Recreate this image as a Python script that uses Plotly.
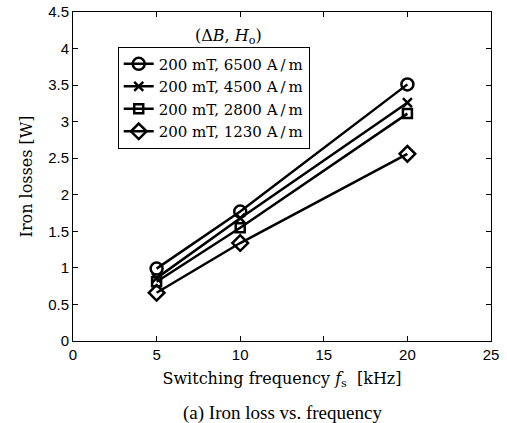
import plotly.graph_objects as go

freq = [5, 10, 20]
loss_6500 = [0.99, 1.77, 3.51]
loss_4500 = [0.86, 1.68, 3.26]
loss_2800 = [0.81, 1.55, 3.11]
loss_1230 = [0.66, 1.34, 2.56]
labels = ["200 mT, 6500 A\u2009/\u2009m", "200 mT, 4500 A\u2009/\u2009m",
          "200 mT, 2800 A\u2009/\u2009m", "200 mT, 1230 A\u2009/\u2009m"]
symbols = ["circle-open", "x-thin-open", "square-open", "diamond-open"]
sizes = [12, 9, 9, 12]
series = [loss_6500, loss_4500, loss_2800, loss_1230]

fig = go.Figure()
for lab, ys, sym, sz in zip(labels, series, symbols, sizes):
    fig.add_trace(go.Scatter(
        x=freq, y=ys, name=lab, mode="lines+markers",
        line=dict(color="black", width=2.5),
        marker=dict(symbol=sym, size=sz, color="black", line=dict(width=2.5, color="black")),
    ))

axis_common = dict(
    showgrid=False, zeroline=False, showline=True, linecolor="black", linewidth=1,
    mirror="allticks", ticks="inside", ticklen=5, tickcolor="black",
    tickfont=dict(family="Liberation Sans, Arial, sans-serif", size=15, color="black"),
    automargin=False,
)
fig.update_xaxes(range=[0, 25], tickvals=[0, 5, 10, 15, 20, 25],
                 title=dict(text="Switching frequency <i>f</i><sub>s</sub>  [kHz]",
                            font=dict(family="DejaVu Serif, serif", size=16, color="black"),
                            standoff=10),
                 **axis_common)
fig.update_yaxes(range=[0, 4.5], tickvals=[0, 0.5, 1, 1.5, 2, 2.5, 3, 3.5, 4, 4.5],
                 ticktext=["0", "0.5", "1", "1.5", "2", "2.5", "3", "3.5", "4", "4.5"],
                 title=dict(text="Iron losses [W]",
                            font=dict(family="DejaVu Serif, serif", size=16, color="black"),
                            standoff=11),
                 **axis_common)

fig.update_layout(
    width=507, height=423,
    margin=dict(l=73, r=16, t=12, b=82),
    plot_bgcolor="white", paper_bgcolor="white",
    showlegend=True,
    legend=dict(x=0.107, y=0.895, xanchor="left", yanchor="top",
                bgcolor="white", bordercolor="black", borderwidth=1,
                font=dict(family="DejaVu Serif, serif", size=15, color="black"),
                tracegroupgap=0, itemwidth=30),
    annotations=[
        dict(text="(Δ<i>B</i>, <i>H</i><sub>o</sub>)", x=0.371, y=0.925, xref="paper", yref="paper",
             xanchor="center", yanchor="middle", showarrow=False,
             font=dict(family="DejaVu Serif, serif", size=16, color="black")),
        dict(text="(a) Iron loss vs. frequency", x=0.5, y=-0.18, xref="paper", yref="paper",
             xanchor="center", yanchor="top", showarrow=False,
             font=dict(family="Liberation Serif, Times New Roman, serif", size=19, color="black")),
    ],
)

fig.write_html("out.html", config={"displayModeBar": False},
               post_script="document.body.style.margin='0';")
